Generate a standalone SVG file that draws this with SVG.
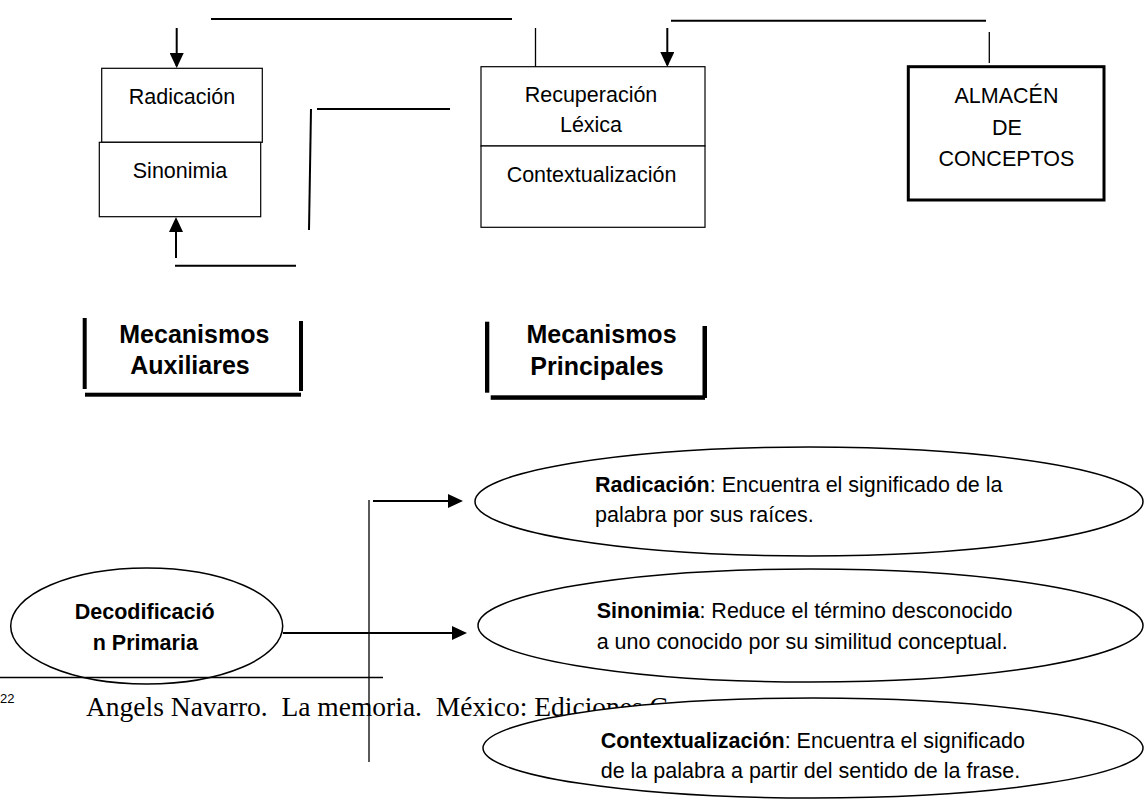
<svg xmlns="http://www.w3.org/2000/svg" width="1145" height="807" viewBox="0 0 1145 807">
  <style>
    .t { font-family: "Liberation Sans", Arial, sans-serif; font-size: 21.5px; fill: #000; }
    .c { text-anchor: middle; }
    .b { font-weight: bold; }
    .h { font-family: "Liberation Sans", Arial, sans-serif; font-size: 25px; font-weight: bold; text-anchor: middle; fill: #000; }
    .box { fill: #fff; stroke: #000; stroke-width: 1.2; }
    .ell { fill: #fff; stroke: #000; stroke-width: 1.5; }
    .ln { stroke: #000; stroke-width: 2; fill: none; }
    .thin { stroke: #000; stroke-width: 1.3; fill: none; }
    .bar { fill: #000; }
  </style>
  <defs>
    <marker id="ah" viewBox="0 0 15 14" refX="13" refY="7" markerWidth="15" markerHeight="14" markerUnits="userSpaceOnUse" orient="auto">
      <path d="M0,0 L15,7 L0,14 z" fill="#000"/>
    </marker>
  </defs>

  <!-- footnote (background) -->
  <g id="footnote">
    <line x1="0" y1="677.5" x2="383" y2="677.5" stroke="#000" stroke-width="1.5"/>
    <text x="0" y="703" font-family="'Liberation Sans', Arial, sans-serif" font-size="13">22</text>
    <text x="86" y="716" font-family="'Liberation Serif', 'Times New Roman', serif" font-size="27.5" xml:space="preserve">Angels Navarro.  La memoria.  México: Ediciones C</text>
  </g>

  <g id="connectors">
    <line class="ln" x1="211" y1="19" x2="512" y2="19"/>
    <line class="ln" x1="176.7" y1="28" x2="176.7" y2="66" marker-end="url(#ah)"/>
    <line class="ln" x1="176" y1="258" x2="176" y2="219" marker-end="url(#ah)"/>
    <line class="ln" x1="175" y1="265.7" x2="296" y2="265.7"/>
    <line class="ln" x1="311" y1="109" x2="309" y2="230"/>
    <line class="ln" x1="317" y1="109" x2="450" y2="109"/>
    <line class="thin" x1="535.5" y1="28" x2="535.5" y2="67"/>
    <line class="ln" x1="667.3" y1="28" x2="667.3" y2="65" marker-end="url(#ah)"/>
    <line class="ln" x1="671" y1="20.7" x2="986" y2="20.7"/>
    <line class="thin" x1="989.3" y1="32" x2="989.3" y2="63"/>
    <line class="thin" x1="369" y1="500" x2="369" y2="762"/>
    <line class="ln" x1="373" y1="501" x2="461" y2="501" marker-end="url(#ah)"/>
    <line class="ln" x1="283" y1="633" x2="465" y2="633" marker-end="url(#ah)"/>
  </g>

  <g id="radicacion">
    <rect class="box" x="101.7" y="68.3" width="160.6" height="74"/>
    <text class="t c" x="182" y="104">Radicación</text>
  </g>
  <g id="sinonimia">
    <rect class="box" x="99.3" y="142.3" width="161.4" height="74.4"/>
    <text class="t c" x="180" y="178.3">Sinonimia</text>
  </g>
  <g id="recuperacion">
    <rect class="box" x="481" y="66.7" width="224" height="79.3"/>
    <text class="t c" x="591" y="101.7">Recuperación</text>
    <text class="t c" x="591" y="131.7">Léxica</text>
  </g>
  <g id="contextualizacion">
    <rect class="box" x="481" y="146" width="224" height="81.3"/>
    <text class="t c" x="591.5" y="181.7">Contextualización</text>
  </g>
  <g id="almacen">
    <rect x="908.3" y="66.7" width="195.7" height="133.3" fill="#fff" stroke="#000" stroke-width="3"/>
    <text class="t c" x="1006.5" y="103.3">ALMACÉN</text>
    <text class="t c" x="1007" y="135">DE</text>
    <text class="t c" x="1006.5" y="165.7">CONCEPTOS</text>
  </g>

  <g id="mec-aux">
    <rect class="bar" x="82.7" y="318" width="4" height="71"/>
    <rect class="bar" x="299" y="321" width="4" height="70"/>
    <rect class="bar" x="85" y="392.7" width="216" height="4"/>
    <text class="h" x="194.3" y="342.7">Mecanismos</text>
    <text class="h" x="190" y="374">Auxiliares</text>
  </g>
  <g id="mec-prin">
    <rect class="bar" x="485" y="321.7" width="4.3" height="71"/>
    <rect class="bar" x="702.5" y="326" width="4.5" height="72"/>
    <rect class="bar" x="490.7" y="395.3" width="214.3" height="4.5"/>
    <text class="h" x="601.5" y="343.3">Mecanismos</text>
    <text class="h" x="597" y="375">Principales</text>
  </g>

  <g id="decodificacion">
    <ellipse cx="146.7" cy="626" rx="136" ry="58" fill="none" stroke="#000" stroke-width="1.5"/>
    <text class="t c b" x="144.7" y="619">Decodificació</text>
    <text class="t c b" x="145.3" y="650">n Primaria</text>
  </g>

  <g id="def-radicacion">
    <ellipse class="ell" cx="809" cy="501.5" rx="334" ry="54.5"/>
    <text class="t" x="595" y="491.7"><tspan class="b">Radicación</tspan>: Encuentra el significado de la</text>
    <text class="t" x="595" y="521.7">palabra por sus raíces.</text>
  </g>
  <g id="def-sinonimia">
    <ellipse class="ell" cx="810.5" cy="625.5" rx="332.5" ry="56.5"/>
    <text class="t" x="596.7" y="618.3"><tspan class="b">Sinonimia</tspan>: Reduce el término desconocido</text>
    <text class="t" x="596.7" y="649.3">a uno conocido por su similitud conceptual.</text>
  </g>
  <g id="def-contextualizacion">
    <ellipse class="ell" cx="813" cy="748" rx="330" ry="50"/>
    <text class="t" x="600.7" y="748.3"><tspan class="b">Contextualización</tspan>: Encuentra el significado</text>
    <text class="t" x="600.7" y="778.3">de la palabra a partir del sentido de la frase.</text>
  </g>
</svg>
